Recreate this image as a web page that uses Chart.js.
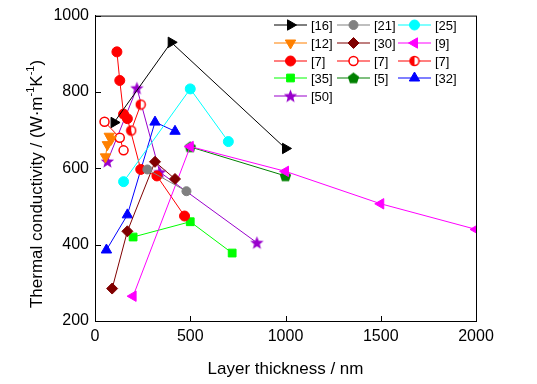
<!DOCTYPE html>
<html>
<head>
<meta charset="utf-8">
<script src="https://cdn.jsdelivr.net/npm/chart.js@4"></script>
<style>
  html, body { margin: 0; padding: 0; background: #fff; }
  #wrap { width: 537px; height: 384px; position: relative; }
</style>
</head>
<body>
<div id="wrap"><canvas id="tcChart"></canvas></div>
<script>
// series values (x = layer thickness nm, y = W/mK)
const ref16X = [100, 400, 1000];
const ref16Y = [720, 930, 652];
const ref21X = [275, 480];
const ref21Y = [597, 540];
const ref25X = [150, 500, 700];
const ref25Y = [565, 808, 670];
const ref12X = [55, 65, 75, 85];
const ref12Y = [630, 662, 684, 676];
const ref30X = [90, 170, 315, 420];
const ref30Y = [285, 435, 617, 572];
const ref9X = [200, 500, 1000, 1500, 2000];
const ref9Y = [265, 657, 592, 507, 440];
const ref7aX = [115, 130, 150, 170, 240, 325, 470];
const ref7aY = [905, 830, 742, 730, 597, 580, 475];
const ref7bX = [50, 130, 150];
const ref7bY = [722, 680, 647];
const ref7cX = [190, 240];
const ref7cY = [699, 767];
const ref35X = [200, 500, 720];
const ref35Y = [420, 460, 378];
const ref5X = [500, 1000];
const ref5Y = [656, 580];
const ref32X = [60, 170, 315, 420];
const ref32Y = [386, 478, 721, 697];
const ref50X = [65, 220, 340, 850];
const ref50Y = [618, 810, 590, 405];

const xTicks = [0, 500, 1000, 1500, 2000];
const yTicks = [200, 400, 600, 800, 1000];

function pts(xs, ys) {
    return xs.map((x, i) => ({ x: x, y: ys[i] }));
}

// small canvases for markers Chart.js has no style for
function markerCanvas(size, drawFn) {
    const c = document.createElement('canvas');
    c.width = size; c.height = size;
    drawFn(c.getContext('2d'), size / 2);
    return c;
}

const starImg = markerCanvas(15, function(g, c) {
    g.beginPath();
    for (let i = 0; i < 10; i++) {
        const r = i % 2 === 0 ? 7 : 3;
        const a = -Math.PI / 2 + i * Math.PI / 5;
        g.lineTo(c + r * Math.cos(a), c + 0.5 + r * Math.sin(a));
    }
    g.closePath();
    g.fillStyle = '#9900CC';
    g.fill();
});

const pentImg = markerCanvas(13, function(g, c) {
    g.beginPath();
    for (let i = 0; i < 5; i++) {
        const a = -Math.PI / 2 + i * 2 * Math.PI / 5;
        g.lineTo(c + 6 * Math.cos(a), c + 0.5 + 6 * Math.sin(a));
    }
    g.closePath();
    g.fillStyle = '#008000';
    g.fill();
});

const halfImg = markerCanvas(12, function(g, c) {
    g.beginPath();
    g.arc(c, c, 4.5, 0, Math.PI * 2);
    g.fillStyle = '#fff';
    g.fill();
    g.beginPath();
    g.arc(c, c, 4.5, Math.PI / 2, Math.PI * 1.5);
    g.closePath();
    g.fillStyle = '#FF0000';
    g.fill();
    g.beginPath();
    g.arc(c, c, 4.5, 0, Math.PI * 2);
    g.strokeStyle = '#FF0000';
    g.lineWidth = 1.5;
    g.stroke();
});

function series(label, xs, ys, color, style, opts) {
    return Object.assign({
        label: label,
        data: pts(xs, ys),
        showLine: true,
        borderColor: color,
        backgroundColor: color,
        borderWidth: 1,
        pointStyle: style,
        pointRadius: 5,
        pointBorderWidth: 1,
        pointBorderColor: color,
        pointBackgroundColor: color,
        pointRotation: 0
    }, opts || {});
}

const datasets = [
    series('[16]', ref16X, ref16Y, '#000000', 'triangle', { pointRadius: 6, pointRotation: 90 }),
    series('[21]', ref21X, ref21Y, '#808080', 'circle', { pointRadius: 4.5 }),
    series('[25]', ref25X, ref25Y, '#00FFFF', 'circle', { pointRadius: 5 }),
    series('[12]', ref12X, ref12Y, '#FF8000', 'triangle', { pointRadius: 6, pointRotation: 180 }),
    series('[30]', ref30X, ref30Y, '#800000', 'rectRot', { pointRadius: 5.5 }),
    series('[9]', ref9X, ref9Y, '#FF00FF', 'triangle', { pointRadius: 6, pointRotation: 270 }),
    series('[7]', ref7aX, ref7aY, '#FF0000', 'circle', { pointRadius: 5 }),
    series('[7]', ref7bX, ref7bY, '#FF0000', 'circle', { pointRadius: 4.5, pointBackgroundColor: '#fff', pointBorderWidth: 1.5 }),
    series('[7]', ref7cX, ref7cY, '#FF0000', halfImg),
    series('[35]', ref35X, ref35Y, '#00FF00', 'rect', { pointRadius: 5.5 }),
    series('[5]', ref5X, ref5Y, '#008000', pentImg),
    series('[32]', ref32X, ref32Y, '#0000FF', 'triangle', { pointRadius: 6 }),
    series('[50]', ref50X, ref50Y, '#9900CC', starImg)
];

const FONT = "'Liberation Sans', Arial, sans-serif";

// frame, inside ticks, legend grid and y title with superscripts
const extras = {
    id: 'extras',
    afterDraw(chart) {
        const ctx = chart.ctx;
        const a = chart.chartArea;
        const xs = chart.scales.x, ys = chart.scales.y;
        ctx.save();
        ctx.strokeStyle = '#000';
        ctx.lineWidth = 1;
        ctx.strokeRect(a.left + 0.5, a.top + 0.5, a.right - a.left, a.bottom - a.top);
        ctx.beginPath();
        xTicks.forEach(v => {
            const px = Math.round(xs.getPixelForValue(v)) + 0.5;
            ctx.moveTo(px, a.bottom);
            ctx.lineTo(px, a.bottom - 5);
        });
        yTicks.forEach(v => {
            const py = Math.round(ys.getPixelForValue(v)) + 0.5;
            ctx.moveTo(a.left, py);
            ctx.lineTo(a.left + 6, py);
        });
        ctx.stroke();

        // legend, 3 columns
        const colX = [274, 337, 398];
        const rowY = [25, 43, 61, 78, 96];
        ctx.font = '13px ' + FONT;
        ctx.textBaseline = 'middle';
        ctx.textAlign = 'left';
        chart.data.datasets.forEach((ds, i) => {
            const x0 = colX[i % 3];
            const y0 = rowY[Math.floor(i / 3)];
            ctx.strokeStyle = ds.borderColor;
            ctx.lineWidth = 1.2;
            ctx.beginPath();
            ctx.moveTo(x0, y0);
            ctx.lineTo(x0 + 33, y0);
            ctx.stroke();
            ctx.fillStyle = ds.pointBackgroundColor;
            ctx.strokeStyle = ds.pointBorderColor;
            ctx.lineWidth = ds.pointBorderWidth;
            Chart.helpers.drawPoint(ctx, {
                pointStyle: ds.pointStyle,
                radius: ds.pointRadius,
                rotation: ds.pointRotation,
                borderWidth: ds.pointBorderWidth
            }, x0 + 16.5, y0);
            ctx.fillStyle = '#000';
            ctx.fillText(ds.label, x0 + 37, y0 + 1);
        });

        // y axis title
        const parts = [
            ['Thermal conductivity / (W\u00b7m', 17, 0],
            ['-1', 11, -6],
            ['K', 17, 0],
            ['-1', 11, -6],
            [')', 17, 0]
        ];
        let total = 0;
        parts.forEach(p => { ctx.font = p[1] + 'px ' + FONT; total += ctx.measureText(p[0]).width; });
        ctx.translate(37, 184);
        ctx.rotate(-Math.PI / 2);
        ctx.fillStyle = '#000';
        ctx.textBaseline = 'middle';
        let cx = -total / 2;
        parts.forEach(p => {
            ctx.font = p[1] + 'px ' + FONT;
            ctx.fillText(p[0], cx, p[2]);
            cx += ctx.measureText(p[0]).width;
        });
        ctx.restore();
    }
};

new Chart(document.getElementById('tcChart').getContext('2d'), {
    type: 'scatter',
    data: { datasets: datasets },
    plugins: [extras],
    options: {
        responsive: true,
        maintainAspectRatio: false,
        animation: false,
        layout: { padding: { left: 0, right: 61, top: 15, bottom: 0 } },
        plugins: {
            legend: { display: false },
            tooltip: { enabled: false }
        },
        scales: {
            x: {
                type: 'linear',
                min: 0,
                max: 2000,
                afterFit: s => { s.height = 63; },
                afterBuildTicks: s => { s.ticks = xTicks.map(v => ({ value: v })); },
                grid: { display: false, drawTicks: false },
                border: { display: true, color: '#000' },
                ticks: { color: '#000', padding: 6, font: { family: FONT, size: 16 }, callback: v => String(v) },
                title: { display: true, text: 'Layer thickness / nm', color: '#000', font: { family: FONT, size: 17 }, padding: { top: 3 } }
            },
            y: {
                min: 200,
                max: 1000,
                afterFit: s => { s.width = 95; },
                afterBuildTicks: s => { s.ticks = yTicks.map(v => ({ value: v })); },
                grid: { display: false, drawTicks: false },
                border: { display: true, color: '#000' },
                ticks: { color: '#000', padding: 6, font: { family: FONT, size: 16 }, callback: v => String(v) }
            }
        }
    }
});
</script>
</body>
</html>
